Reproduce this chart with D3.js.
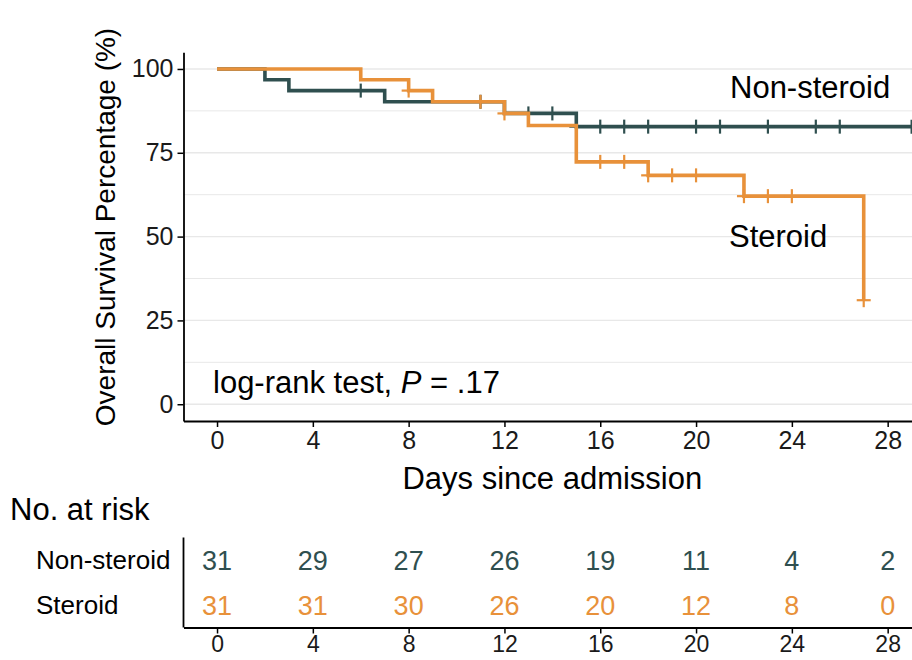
<!DOCTYPE html>
<html>
<head>
<meta charset="utf-8">
<script src="https://cdn.jsdelivr.net/npm/d3@7"></script>
<style>
  html, body { margin: 0; padding: 0; background: #fff; }
  svg { display: block; font-family: "Liberation Sans", Arial, Helvetica, sans-serif; }
</style>
</head>
<body>
<svg id="chart" width="912" height="660"></svg>
<script>
// ---------------- data ----------------
const groups = ["Non-steroid", "Steroid"];
const colors = ["#2F4F4F", "#E8913A"];

// Kaplan-Meier step points (time in days, survival %)
const nonSteroidTime = [0, 2, 3, 7, 12, 15, 29];
const nonSteroidSurv = [100, 96.77, 93.55, 90.21, 86.74, 82.8, 82.8];
const nonSteroidCensor = [6, 11, 13, 14, 15, 16, 17, 18, 20, 21, 23, 25, 26, 29];

const steroidTime = [0, 6, 8, 9, 12, 13, 15, 18, 22, 27];
const steroidSurv = [100, 96.77, 93.55, 90.21, 86.74, 83.13, 72.29, 68.27, 62.06, 31.03];
const steroidCensor = [8, 11, 12, 16, 17, 18, 19, 20, 22, 23, 24, 27];

// numbers at risk
const riskDays = [0, 4, 8, 12, 16, 20, 24, 28];
const nonSteroidRisk = [31, 29, 27, 26, 19, 11, 4, 2];
const steroidRisk = [31, 31, 30, 26, 20, 12, 8, 0];

const yTicks = [0, 25, 50, 75, 100];
const yMinor = [12.5, 37.5, 62.5, 87.5];

// ---------------- layout ----------------
const svg = d3.select("#chart");
const x = d3.scaleLinear().domain([-1.4, 29.4]).range([183.5, 921.2]);
const y = d3.scaleLinear().domain([-5, 105]).range([421, 52.2]);
const font = "'Liberation Sans', Arial, Helvetica, sans-serif";

// gridlines
svg.append("g").selectAll("line").data(yMinor.concat(yTicks)).join("line")
  .attr("x1", x.range()[0]).attr("x2", 912)
  .attr("y1", d => y(d)).attr("y2", d => y(d))
  .attr("stroke", "#e8e8e8").attr("stroke-width", d => yTicks.includes(d) ? 1.4 : 1);

// step curves
function stepData(t, s) { return t.map((d, i) => [d, s[i]]); }
function survAt(t, s, time) {
  let v = s[0];
  for (let i = 0; i < t.length; i++) if (t[i] <= time) v = s[i];
  return v;
}
const series = [
  { t: nonSteroidTime, s: nonSteroidSurv, c: nonSteroidCensor, color: colors[0] },
  { t: steroidTime, s: steroidSurv, c: steroidCensor, color: colors[1] }
];
const line = d3.line().x(d => x(d[0])).y(d => y(d[1])).curve(d3.curveStepAfter);

series.forEach(sr => {
  const g = svg.append("g");
  g.append("path").datum(stepData(sr.t, sr.s))
    .attr("d", line).attr("fill", "none")
    .attr("stroke", sr.color).attr("stroke-width", 3.6);
  const m = 7;
  const marks = g.selectAll("g.cm").data(sr.c).join("g")
    .attr("transform", d => `translate(${x(d)},${y(survAt(sr.t, sr.s, d))})`);
  marks.append("line").attr("x1", -m).attr("x2", m).attr("y1", 0).attr("y2", 0)
    .attr("stroke", sr.color).attr("stroke-width", 2.2);
  marks.append("line").attr("x1", 0).attr("x2", 0).attr("y1", -m).attr("y2", m)
    .attr("stroke", sr.color).attr("stroke-width", 2.2);
});

// axes
const yAxis = svg.append("g").attr("transform", `translate(${x.range()[0]},0)`)
  .call(d3.axisLeft(y).tickValues(yTicks).tickSize(6).tickSizeOuter(0).tickPadding(4));
const xAxis = svg.append("g").attr("transform", `translate(0,${y.range()[0]})`)
  .call(d3.axisBottom(x).tickValues(riskDays).tickSize(6).tickSizeOuter(0).tickPadding(4));
[yAxis, xAxis].forEach(a => {
  a.select(".domain").attr("stroke", "#000").attr("stroke-width", 1.8);
  a.selectAll(".tick line").attr("stroke", "#000").attr("stroke-width", 1.5);
  a.selectAll(".tick text").attr("fill", "#1a1a1a").attr("font-size", 25).attr("font-family", font);
});

// titles
svg.append("text").attr("transform", "translate(115,227) rotate(-90)")
  .attr("text-anchor", "middle").attr("font-size", 28).attr("fill", "#000")
  .text("Overall Survival Percentage (%)");
svg.append("text").attr("x", x(14)).attr("y", 489)
  .attr("text-anchor", "middle").attr("font-size", 31).attr("fill", "#000")
  .text("Days since admission");

// annotations
svg.append("text").attr("x", 730).attr("y", 98).attr("font-size", 31).attr("fill", "#000").text("Non-steroid");
svg.append("text").attr("x", 729).attr("y", 247).attr("font-size", 31).attr("fill", "#000").text("Steroid");
const lr = svg.append("text").attr("x", 213).attr("y", 393).attr("font-size", 31).attr("fill", "#000");
lr.append("tspan").text("log-rank test, ");
lr.append("tspan").attr("font-style", "italic").text("P");
lr.append("tspan").text(" = .17");

// ---------------- risk table ----------------
svg.append("text").attr("x", 10).attr("y", 520).attr("font-size", 31).attr("fill", "#000").text("No. at risk");
const row = d3.scaleBand().domain(groups).range([537.5, 627.5]);
const riskValues = [nonSteroidRisk, steroidRisk];

groups.forEach((gname, gi) => {
  const cy = row(gname) + row.bandwidth() / 2;
  svg.append("text").attr("x", 36).attr("y", cy).attr("dy", "0.36em")
    .attr("font-size", 26).attr("fill", "#000").text(gname);
  svg.append("g").selectAll("text").data(riskValues[gi]).join("text")
    .attr("x", (d, i) => x(riskDays[i])).attr("y", cy).attr("dy", "0.36em")
    .attr("text-anchor", "middle").attr("font-size", 27).attr("fill", colors[gi])
    .text(d => d);
});
const rAxis = svg.append("g").attr("transform", `translate(0,${row.range()[1]})`)
  .call(d3.axisBottom(x).tickValues(riskDays).tickSize(6).tickSizeOuter(0).tickPadding(2));
rAxis.select(".domain").attr("stroke", "#000").attr("stroke-width", 1.8);
rAxis.selectAll(".tick line").attr("stroke", "#000").attr("stroke-width", 1.5);
rAxis.selectAll(".tick text").attr("fill", "#1a1a1a").attr("font-size", 23).attr("font-family", font);
svg.append("line").attr("x1", x.range()[0]).attr("x2", x.range()[0])
  .attr("y1", row.range()[0]).attr("y2", row.range()[1])
  .attr("stroke", "#000").attr("stroke-width", 1.8);
</script>
</body>
</html>
